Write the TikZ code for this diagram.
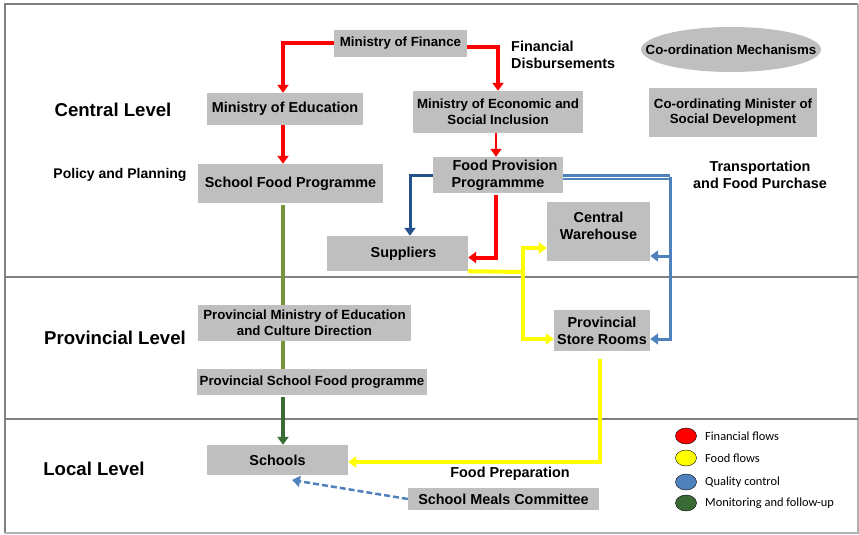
\documentclass[tikz,border=0pt]{standalone}
\usepackage{fontspec}
\setmainfont{Liberation Sans}
\newfontfamily\legendfont{Carlito}
\usetikzlibrary{arrows.meta,%
                shapes.geometric}
\definecolor{boxgray}{HTML}{BFBFBF}
\definecolor{framegray}{HTML}{808080}
\definecolor{finred}{HTML}{FF0000}
\definecolor{foodyellow}{HTML}{FFFF00}
\definecolor{qcblue}{HTML}{4F81BD}
\definecolor{supblue}{HTML}{24518A}
\definecolor{olive}{HTML}{77933C}
\definecolor{mongreen}{HTML}{3B6B35}

\tikzset{
  box/.style={fill=boxgray, inner sep=0pt, align=center,
              font={\fontsize{14.4}{17}\selectfont\bfseries}},
  smallbox/.style={box, font={\fontsize{13.3}{15.7}\selectfont\bfseries}},
  label/.style={inner sep=0pt, align=center,
                font={\fontsize{14.4}{17}\selectfont\bfseries}},
  level/.style={inner sep=0pt, font={\fontsize{18.6}{22}\selectfont\bfseries}},
  tip/.style={-{Triangle[length=8pt,width=11pt]}},
  finflow/.style={tip, draw=finred, line width=4pt},
  foodflow/.style={tip, draw=foodyellow, line width=4pt},
  qcflow/.style={tip, draw=qcblue, line width=3pt},
  supflow/.style={tip, draw=supblue, line width=3pt},
  monflow/.style={draw=olive, line width=4pt},
  dot/.style={ellipse, draw=black, thin, minimum width=21pt, minimum height=16pt, inner sep=0pt},
  legtext/.style={anchor=west, inner sep=0pt, font={\legendfont\fontsize{12.4}{14}\selectfont}}
}

\begin{document}
\begin{tikzpicture}[x=1pt,y=-1pt]
\useasboundingbox (0,0) rectangle (859,535);

% frame and levels
\draw[framegray, line width=2.5pt] (5,533) -- (5,4) -- (858,4);
\draw[gray!60, line width=1.2pt] (858,4) -- (858,533) -- (5,533);
\draw[framegray, line width=2.5pt] (5,277) -- (858,277);
\draw[framegray, line width=2.5pt] (5,419) -- (858,419);

\node[level] (central) at (113,110) {Central Level};
\node[level] (provincial) at (115,338) {Provincial Level};
\node[level] (local) at (94,469) {Local Level};

% central level
\node[smallbox, minimum width=133pt, minimum height=27pt] (fin) at (400.5,43.5) {Ministry of Finance};
\node[box, minimum width=156pt, minimum height=32pt] (edu) at (285,109) {Ministry of Education};
\node[smallbox, minimum width=170pt, minimum height=42pt] (mesi) at (498,112) {Ministry of Economic and\\Social Inclusion};
\node[box, minimum width=185pt, minimum height=39pt] (sfp) at (290.5,183.5) {School Food Programme};
\node[box, minimum width=130pt, minimum height=36pt] (fpp) at (498,175) {\hspace*{14pt}Food Provision\\Programmme};
\node[box, minimum width=141pt, minimum height=35pt] (sup) at (397.5,253.5) {\hspace*{12pt}Suppliers};
\node[box, minimum width=103pt, minimum height=59pt] (cw) at (598.5,231.5) {Central\\Warehouse\\[-6pt]};
\node[ellipse, fill=boxgray, minimum width=180pt, minimum height=45pt] (coord) at (731,49.5) {};
\node[smallbox, fill=none] (coordtext) at (coord) {Co-ordination Mechanisms};
\node[smallbox, minimum width=168pt, minimum height=49pt] (csd) at (733,112.5) {Co-ordinating Minister of\\Social Development};

\node[label, font={\fontsize{14}{16}\selectfont\bfseries}] (policy) at (120,175) {Policy and Planning};
\node[label, anchor=west, align=left] (disb) at (511,55) {Financial\\Disbursements};
\node[label] (transp) at (760,175) {Transportation\\and Food Purchase};

% provincial level
\node[smallbox, minimum width=213pt, minimum height=36pt] (pmec) at (304.5,323) {Provincial Ministry of Education\\and Culture Direction};
\node[smallbox, minimum width=230pt, minimum height=26pt] (psfp) at (312,382) {Provincial School Food programme};
\node[box, minimum width=96pt, minimum height=41pt] (psr) at (602,330.5) {Provincial\\Store Rooms};

% local level
\node[box, minimum width=141pt, minimum height=30pt] (schools) at (277.5,460) {Schools};
\node[box, minimum width=191pt, minimum height=22pt] (smc) at (503.5,499) {School Meals Committee};
\node[label] (prep) at (510,474) {Food Preparation};

% financial flows
\draw[finflow] (fin.west) -| ([xshift=-2pt]edu.north);
\draw[finflow] ([yshift=-4pt]fin.east) -| (mesi.north);
\draw[finflow] ([xshift=-2pt]edu.south) -- ([xshift=-2pt]edu.south |- sfp.north);
\draw[finflow, line width=2.5pt] ([xshift=-2pt]mesi.south) -- ([xshift=-2pt]mesi.south |- fpp.north);
\draw[finflow] ([xshift=-2pt,yshift=-2pt]fpp.south) |- ([yshift=-4pt]sup.east);

% supply and quality control
\draw[supflow] (fpp.west) -| ([xshift=12.5pt]sup.north);
\coordinate (qtop) at (670,177);
\coordinate (qmid) at (670,256);
\coordinate (qbot) at (670,339);
\draw[qcblue, line width=2.5pt, double=white, double distance=0.8pt] (fpp.east |- qtop) -- (qtop);
\draw[qcflow] (qtop) -- (qbot) -- (qbot -| psr.east);
\draw[qcflow] (qmid) -- (qmid -| cw.east);

% food flows
\coordinate (ysplit) at (523,272);
\draw[foodyellow, line width=4pt] (sup.south east) -- (ysplit);
\draw[foodflow] (ysplit) |- ([yshift=-16.5pt]cw.west);
\draw[foodflow] (ysplit) |- ([yshift=-8.5pt]psr.west);
\draw[foodflow] ([xshift=-2pt,yshift=-8pt]psr.south) |- ([yshift=-2pt]schools.east);

% monitoring
\draw[monflow] ([xshift=-7.5pt,yshift=-2pt]sfp.south) -- ([xshift=-7.5pt]sfp.south |- pmec.north);
\draw[monflow] ([xshift=-7.5pt]sfp.south |- pmec.south) -- ([xshift=-7.5pt]sfp.south |- psfp.north);
\draw[monflow, tip, draw=mongreen] ([xshift=-7.5pt,yshift=-2pt]sfp.south |- psfp.south) -- ([xshift=-7.5pt]sfp.south |- schools.north);

% committee
\coordinate (qend) at (292,480);
\draw[qcflow, line width=2.5pt, dashed, dash pattern=on 6pt off 3pt] (smc.west) -- (qend);

% legend
\node[dot, fill=finred] (lfin) at (686,436) {};
\node[dot, fill=foodyellow] (lfood) at (686,458) {};
\node[dot, fill=qcblue] (lqc) at (686,482) {};
\node[dot, fill=mongreen] (lmon) at (686,503) {};
\node[legtext] at (705,436) {Financial flows};
\node[legtext] at (705,458) {Food flows};
\node[legtext] at (705,482) {Quality control};
\node[legtext] at (705,503) {Monitoring and follow-up};
\end{tikzpicture}
\end{document}
